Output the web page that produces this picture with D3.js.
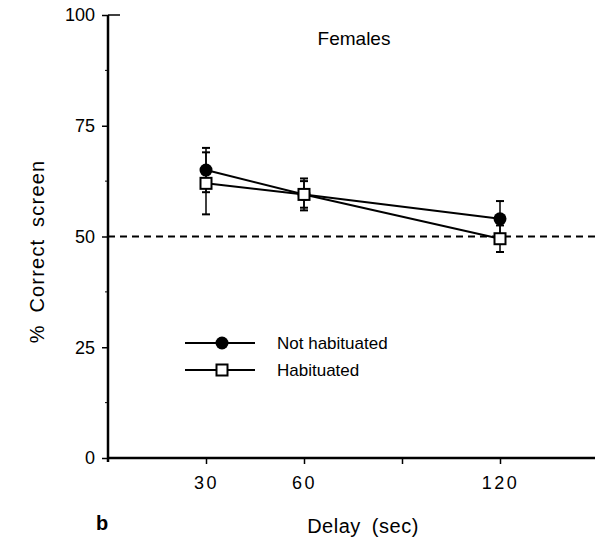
<!DOCTYPE html>
<html>
<head>
<meta charset="utf-8">
<script src="https://cdn.jsdelivr.net/npm/d3@7"></script>
<style>
    body { margin: 0; background: #fff; }
    svg { display: block; font-family: "Liberation Sans", Arial, Helvetica, sans-serif; }
</style>
</head>
<body>
<svg id="chart"></svg>
<script>
"use strict";

// Chart size
const width = 595;
const height = 537;

// Data
const delays = [30, 60, 120];
const notHabituated = [65, 59.5, 54];
const notHabituatedErr = [5, 3, 4];
const habituated = [62, 59.5, 49.5];
const habituatedErr = [7, 3.6, 3];
const seriesNames = ["Not habituated", "Habituated"];
const yTicks = [0, 25, 50, 75, 100];
const yMinorTicks = [12.5, 37.5, 62.5, 87.5];
const xTicks = [30, 60, 90, 120];
const xTickLabels = ["30", "60", "", "120"];
const chanceLevel = 50;

const svg = d3.select("#chart")
    .attr("width", width)
    .attr("height", height);

// Scales
const xScale = d3.scaleLinear().domain([0, 150]).range([108, 598]);
const yScale = d3.scaleLinear().domain([0, 100]).range([458, 15]);

// y axis
const yAxis = svg.append("g")
    .attr("transform", `translate(${xScale(0)},0)`)
    .call(d3.axisLeft(yScale).tickValues(yTicks).tickSize(6).tickSizeOuter(0).tickPadding(7));
yAxis.select(".domain").remove();
yAxis.selectAll("text").style("font-size", "18px").attr("fill", "#000");
yAxis.selectAll("line").attr("stroke", "#000").attr("stroke-width", 1.5);

svg.append("g")
    .selectAll("line")
    .data(yMinorTicks)
    .join("line")
        .attr("x1", xScale(0) - 3)
        .attr("x2", xScale(0))
        .attr("y1", d => yScale(d))
        .attr("y2", d => yScale(d))
        .attr("stroke", "#000")
        .attr("stroke-width", 1);

// top cap of the y axis
svg.append("line")
    .attr("x1", xScale(0))
    .attr("x2", xScale(0) + 12)
    .attr("y1", yScale(100))
    .attr("y2", yScale(100))
    .attr("stroke", "#000")
    .attr("stroke-width", 1.5);

svg.append("line")
    .attr("x1", xScale(0))
    .attr("x2", xScale(0))
    .attr("y1", yScale(100))
    .attr("y2", yScale(0) + 4)
    .attr("stroke", "#000")
    .attr("stroke-width", 2.5);

// x axis
const xAxis = svg.append("g")
    .attr("transform", `translate(0,${yScale(0)})`)
    .call(d3.axisBottom(xScale).tickValues(xTicks).tickSize(6).tickSizeOuter(0).tickPadding(12)
        .tickFormat((d, i) => xTickLabels[i]));
xAxis.select(".domain").remove();
xAxis.selectAll("text").style("font-size", "18px").style("letter-spacing", "2.5px").attr("fill", "#000");
xAxis.selectAll("line").attr("stroke", "#000").attr("stroke-width", 1.5);

svg.append("line")
    .attr("x1", xScale(0))
    .attr("x2", width)
    .attr("y1", yScale(0))
    .attr("y2", yScale(0))
    .attr("stroke", "#000")
    .attr("stroke-width", 2.5);

// chance line
svg.append("line")
    .attr("x1", xScale(0))
    .attr("x2", width)
    .attr("y1", yScale(chanceLevel))
    .attr("y2", yScale(chanceLevel))
    .attr("stroke", "#000")
    .attr("stroke-width", 1.8)
    .attr("stroke-dasharray", "7,5");

// series
const series = [
    { name: seriesNames[0], values: notHabituated, err: notHabituatedErr, shape: "circle" },
    { name: seriesNames[1], values: habituated, err: habituatedErr, shape: "square" }
];

const line = d3.line()
    .x((d, i) => xScale(delays[i]))
    .y(d => yScale(d));

const plot = svg.append("g");

series.forEach(s => {
    const g = plot.append("g");
    // error bars
    delays.forEach((t, i) => {
        const x = xScale(t);
        const lo = yScale(s.values[i] - s.err[i]);
        const hi = yScale(s.values[i] + s.err[i]);
        g.append("line").attr("x1", x).attr("x2", x).attr("y1", lo).attr("y2", hi)
            .attr("stroke", "#000").attr("stroke-width", 1.5);
        [lo, hi].forEach(y => {
            g.append("line").attr("x1", x - 4).attr("x2", x + 4).attr("y1", y).attr("y2", y)
                .attr("stroke", "#000").attr("stroke-width", 2);
        });
    });
    g.append("path")
        .attr("d", line(s.values))
        .attr("fill", "none")
        .attr("stroke", "#000")
        .attr("stroke-width", 2);
});

function drawMarker(g, shape, x, y) {
    if (shape === "circle") {
        g.append("circle").attr("cx", x).attr("cy", y).attr("r", 6.5).attr("fill", "#000");
    } else {
        g.append("rect").attr("x", x - 5.5).attr("y", y - 5.5).attr("width", 11).attr("height", 11)
            .attr("fill", "#fff").attr("stroke", "#000").attr("stroke-width", 2);
    }
}

// circles first, squares on top
series.forEach(s => {
    const g = plot.append("g");
    s.values.forEach((v, i) => drawMarker(g, s.shape, xScale(delays[i]), yScale(v)));
});

// legend
const legend = svg.append("g");
series.forEach((s, i) => {
    const y = 343 + i * 27;
    legend.append("line").attr("x1", 185).attr("x2", 255).attr("y1", y).attr("y2", y)
        .attr("stroke", "#000").attr("stroke-width", 2);
    drawMarker(legend, s.shape, 222, y);
    legend.append("text").attr("x", 277).attr("y", y + 6)
        .style("font-size", "17px").text(s.name);
});

// titles
svg.append("text")
    .attr("x", 354).attr("y", 45)
    .attr("text-anchor", "middle")
    .style("font-size", "19px")
    .text("Females");

svg.append("text")
    .attr("transform", `translate(44,${yScale(50) + 15}) rotate(-90)`)
    .attr("text-anchor", "middle")
    .style("font-size", "20px")
    .style("letter-spacing", "1.2px")
    .style("word-spacing", "5px")
    .text("% Correct screen");

svg.append("text")
    .attr("x", 363).attr("y", 533)
    .attr("text-anchor", "middle")
    .style("font-size", "20px")
    .style("letter-spacing", "0.5px")
    .style("word-spacing", "5px")
    .text("Delay (sec)");

svg.append("text")
    .attr("x", 96).attr("y", 530)
    .style("font-size", "20px")
    .style("font-weight", "bold")
    .text("b");
</script>
</body>
</html>
